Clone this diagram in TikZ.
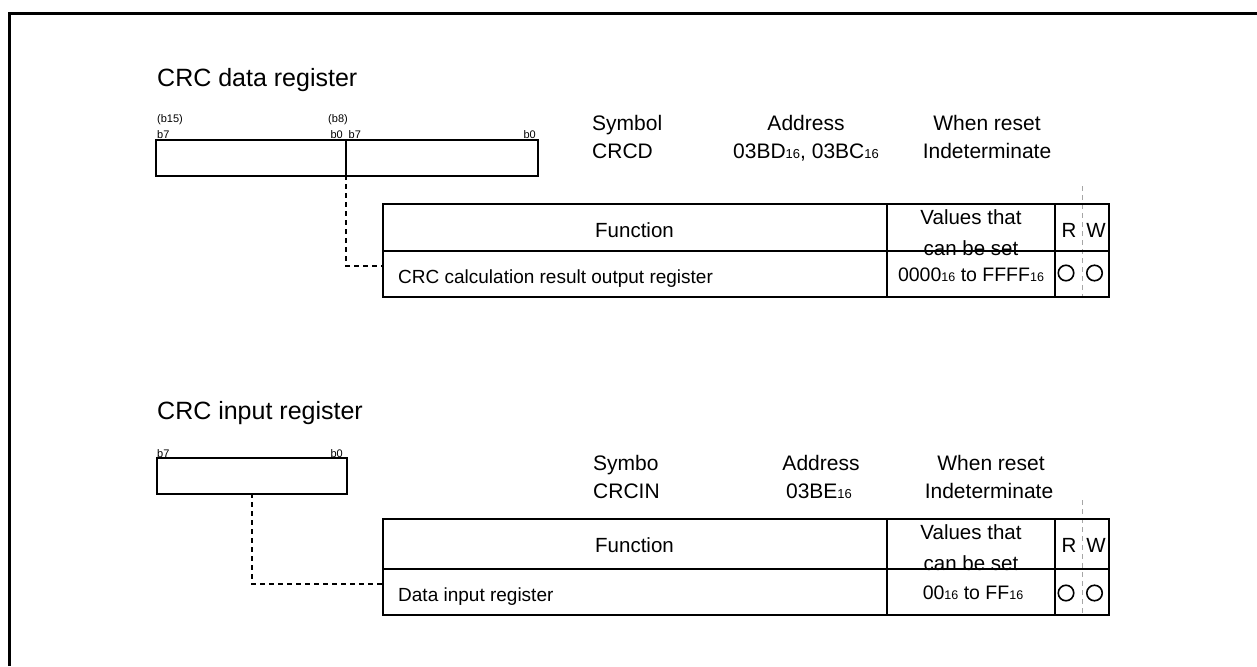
\documentclass[tikz,border=0pt]{standalone}
\usepackage{fontspec}
\setmainfont{Liberation Sans}
\newcommand\hexsub[2]{{\fontsize{#1}{#1}\selectfont #2}}
\tikzset{
  frameline/.style={line width=2.8pt},
  regbox/.style={draw, line width=2.1pt, inner sep=0pt, anchor=north west},
  tblbox/.style={draw, line width=2.1pt, inner sep=0pt, anchor=north west},
  tblline/.style={line width=2.1pt},
  conn/.style={line width=1.8pt, dash pattern=on 5pt off 4pt},
  rwdash/.style={line width=1pt, gray!70, dash pattern=on 5pt off 4pt},
  rwcirc/.style={draw, circle, line width=1.6pt, minimum size=15.5pt, inner sep=0pt},
  title/.style={inner sep=0pt, font=\fontsize{25}{30}\selectfont},
  hdr/.style={inner sep=0pt, font=\fontsize{21}{25}\selectfont},
  thdr/.style={inner sep=0pt, font=\fontsize{20.5}{24}\selectfont},
  rowtxt/.style={inner sep=0pt, font=\fontsize{19}{23}\selectfont},
  valtxt/.style={inner sep=0pt, font=\fontsize{19.5}{23}\selectfont},
  bitlbl/.style={inner sep=0pt, font=\fontsize{11}{13}\selectfont},
}
\begin{document}
\begin{tikzpicture}[x=1pt,y=-1pt]
\useasboundingbox (0,0) rectangle (1257,666);
\fill[white] (0,0) rectangle (1257,666);
\draw[frameline] (9.5,666) -- (9.5,13.3) -- (1257,13.3);

% ---------------- CRC data register ----------------
\node[title, anchor=base west] (t1) at (157,87) {CRC data register};
\node[bitlbl, anchor=base west] (b15) at (157,123) {(b15)};
\node[bitlbl, anchor=base east] (b8) at (348,123) {(b8)};
\node[bitlbl, anchor=base west] (a7) at (157,139) {b7};
\node[bitlbl, anchor=base east] (a0) at (343,139) {b0};
\node[bitlbl, anchor=base west] (c7) at (348.5,139) {b7};
\node[bitlbl, anchor=base east] (c0) at (536,139) {b0};
\node[regbox, minimum width=381.5pt, minimum height=36pt] (r1) at (155,139) {};
\coordinate (r1top) at (346,139);
\coordinate (r1div) at (346,175);
\draw[tblline] (r1top) -- (r1div);

\node[hdr, anchor=base west] (s1a) at (592,131) {Symbol};
\node[hdr, anchor=base west] (s1b) at (592,158) {CRCD};
\node[hdr, anchor=base] (ad1a) at (806,131) {Address};
\node[hdr, anchor=base] (ad1b) at (806,158) {03BD\hexsub{13}{16}, 03BC\hexsub{13}{16}};
\node[hdr, anchor=base] (rs1a) at (987,131) {When reset};
\node[hdr, anchor=base] (rs1b) at (987,158) {Indeterminate};

\draw[rwdash] (1082,186) -- (1082,296);
\node[tblbox, minimum width=726pt, minimum height=93pt] (tb1) at (382,203) {};
\draw[tblline] (382,251) -- (1108,251);
\draw[tblline] (887,203) -- (887,296);
\draw[tblline] (1055,203) -- (1055,296);
\coordinate (tb1row) at (382,266);

\node[thdr, anchor=base] (f1) at (634.5,237) {Function};
\node[thdr, anchor=base] (v1a) at (971,224) {Values that};
\node[thdr, anchor=base] (v1b) at (971,255) {can be set};
\node[thdr, anchor=base] (r1r) at (1069,237) {R};
\node[thdr, anchor=base] (r1w) at (1096,237) {W};
\node[rowtxt, anchor=base west] (d1) at (398,283) {CRC calculation result output register};
\node[valtxt, anchor=base] (val1) at (971,281) {0000\hexsub{12.5}{16} to FFFF\hexsub{12.5}{16}};
\node[rwcirc] (c1r) at (1066,273) {};
\node[rwcirc] (c1w) at (1094.5,273) {};

\draw[conn] (r1div) |- (tb1row);

% ---------------- CRC input register ----------------
\node[title, anchor=base west] (t2) at (157,419) {CRC input register};
\node[bitlbl, anchor=base west] (e7) at (157,457) {b7};
\node[bitlbl, anchor=base east] (e0) at (343,457) {b0};
\node[regbox, minimum width=190.5pt, minimum height=36pt] (r2) at (155.5,457) {};
\coordinate (r2bot) at (252,493);

\node[hdr, anchor=base west] (s2a) at (593,470) {Symbo};
\node[hdr, anchor=base west] (s2b) at (593,498) {CRCIN};
\node[hdr, anchor=base] (ad2a) at (821,470) {Address};
\node[hdr, anchor=base] (ad2b) at (819,498) {03BE\hexsub{13}{16}};
\node[hdr, anchor=base] (rs2a) at (991,470) {When reset};
\node[hdr, anchor=base] (rs2b) at (989,498) {Indeterminate};

\draw[rwdash] (1082,500) -- (1082,614);
\node[tblbox, minimum width=726pt, minimum height=96pt] (tb2) at (382,518) {};
\draw[tblline] (382,569) -- (1108,569);
\draw[tblline] (887,518) -- (887,614);
\draw[tblline] (1055,518) -- (1055,614);
\coordinate (tb2row) at (382,584);

\node[thdr, anchor=base] (f2) at (634.5,552) {Function};
\node[thdr, anchor=base] (v2a) at (971,539) {Values that};
\node[thdr, anchor=base] (v2b) at (971,570) {can be set};
\node[thdr, anchor=base] (r2r) at (1069,552) {R};
\node[thdr, anchor=base] (r2w) at (1096,552) {W};
\node[rowtxt, anchor=base west] (d2) at (398,601) {Data input register};
\node[valtxt, anchor=base] (val2) at (973,599) {00\hexsub{12.5}{16} to FF\hexsub{12.5}{16}};
\node[rwcirc] (c2r) at (1066,593) {};
\node[rwcirc] (c2w) at (1094.5,593) {};

\draw[conn] (r2bot) |- (tb2row);
\end{tikzpicture}
\end{document}
